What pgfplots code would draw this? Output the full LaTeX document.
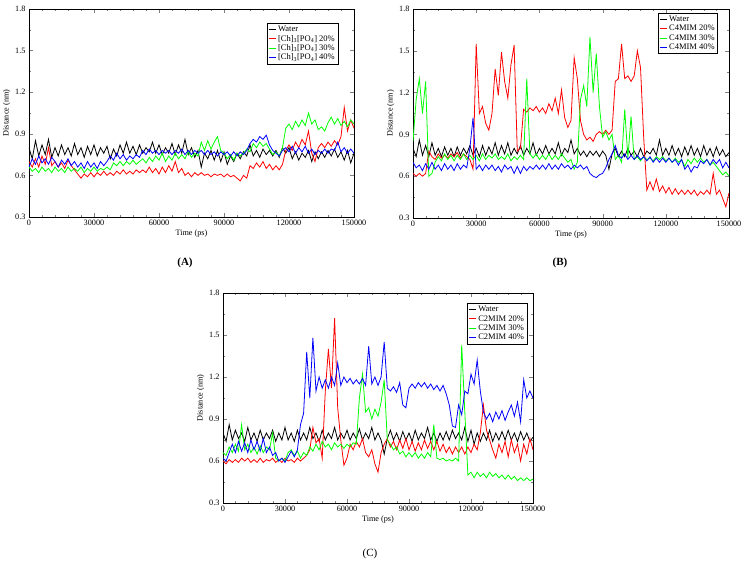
\documentclass[border=0pt]{standalone}
\usepackage{pgfplots}
\pgfplotsset{compat=1.18}
\usepackage{pgfplotstable}
\usepackage{fontspec}
\setmainfont{Liberation Serif}

\definecolor{gRed}{RGB}{255,0,0}
\definecolor{gGreen}{RGB}{0,255,0}
\definecolor{gBlue}{RGB}{0,0,255}

% panel A: water, [Ch]3[PO4] 20/30/40 %
\pgfplotstableread{
t w r g b
0 0.80 0.70 0.66 0.66
1500 0.72 0.66 0.63 0.72
3000 0.85 0.72 0.65 0.68
4500 0.74 0.66 0.62 0.74
6000 0.82 0.74 0.66 0.69
7500 0.75 0.68 0.63 0.72
9000 0.86 0.80 0.65 0.68
10500 0.73 0.67 0.62 0.73
12000 0.80 0.70 0.66 0.70
13500 0.74 0.66 0.63 0.66
15000 0.82 0.69 0.65 0.71
16500 0.75 0.65 0.62 0.68
18000 0.80 0.71 0.66 0.72
19500 0.74 0.67 0.63 0.67
21000 0.83 0.64 0.65 0.70
22500 0.75 0.61 0.63 0.66
24000 0.80 0.58 0.66 0.69
25500 0.73 0.61 0.62 0.65
27000 0.81 0.59 0.65 0.70
28500 0.75 0.62 0.63 0.66
30000 0.82 0.59 0.66 0.69
31500 0.74 0.62 0.63 0.65
33000 0.80 0.60 0.65 0.70
34500 0.76 0.63 0.64 0.67
36000 0.81 0.60 0.66 0.70
37500 0.72 0.62 0.64 0.74
39000 0.79 0.60 0.69 0.71
40500 0.74 0.63 0.67 0.76
42000 0.82 0.61 0.70 0.72
43500 0.76 0.64 0.67 0.75
45000 0.84 0.61 0.70 0.71
46500 0.76 0.63 0.68 0.74
48000 0.81 0.61 0.71 0.72
49500 0.75 0.64 0.68 0.75
51000 0.82 0.62 0.70 0.73
52500 0.76 0.64 0.72 0.78
54000 0.80 0.62 0.69 0.75
55500 0.77 0.66 0.73 0.79
57000 0.84 0.62 0.70 0.76
58500 0.76 0.65 0.74 0.78
60000 0.82 0.61 0.71 0.75
61500 0.75 0.66 0.76 0.78
63000 0.80 0.62 0.70 0.76
64500 0.76 0.67 0.74 0.78
66000 0.83 0.63 0.71 0.75
67500 0.75 0.70 0.76 0.78
69000 0.82 0.62 0.72 0.76
70500 0.76 0.65 0.75 0.79
72000 0.86 0.60 0.72 0.75
73500 0.75 0.62 0.77 0.78
75000 0.80 0.59 0.73 0.75
76500 0.73 0.62 0.76 0.78
78000 0.78 0.60 0.74 0.76
79500 0.66 0.62 0.84 0.78
81000 0.76 0.60 0.78 0.75
82500 0.72 0.61 0.85 0.78
84000 0.78 0.59 0.79 0.75
85500 0.71 0.61 0.84 0.77
87000 0.78 0.60 0.88 0.74
88500 0.70 0.61 0.78 0.77
90000 0.77 0.59 0.76 0.75
91500 0.68 0.61 0.72 0.77
93000 0.74 0.59 0.75 0.74
94500 0.70 0.60 0.71 0.77
96000 0.76 0.58 0.76 0.74
97500 0.72 0.56 0.74 0.77
99000 0.77 0.60 0.76 0.75
100500 0.74 0.58 0.79 0.78
102000 0.82 0.67 0.77 0.83
103500 0.74 0.65 0.83 0.86
105000 0.78 0.69 0.80 0.84
106500 0.73 0.66 0.84 0.88
108000 0.79 0.70 0.81 0.86
109500 0.75 0.65 0.83 0.89
111000 0.78 0.68 0.79 0.82
112500 0.74 0.64 0.75 0.78
114000 0.78 0.67 0.77 0.76
115500 0.73 0.64 0.74 0.74
117000 0.80 0.68 0.80 0.78
118500 0.76 0.78 0.94 0.80
120000 0.80 0.82 0.97 0.77
121500 0.72 0.78 0.93 0.81
123000 0.77 0.84 0.99 0.76
124500 0.71 0.80 0.95 0.80
126000 0.76 0.86 1.00 0.77
127500 0.73 0.82 0.96 0.81
129000 0.78 0.92 1.05 0.76
130500 0.70 0.76 0.97 0.79
132000 0.77 0.70 1.00 0.75
133500 0.72 0.80 0.93 0.78
135000 0.77 0.83 0.95 0.76
136500 0.73 0.80 0.92 0.79
138000 0.78 0.84 0.98 0.76
139500 0.74 0.81 1.02 0.79
141000 0.79 0.85 0.97 0.78
142500 0.73 0.82 1.01 0.84
144000 0.77 0.88 0.96 0.77
145500 0.71 1.09 0.99 0.80
147000 0.78 0.92 0.95 0.76
148500 0.69 1.00 1.00 0.79
150000 0.76 0.94 0.97 0.76
}\dataA

% panel B: water, C4MIM 20/30/40 %
\pgfplotstableread{
t w r g b
0 0.80 0.62 0.85 0.70
1500 0.74 0.60 1.15 0.66
3000 0.86 0.62 1.30 0.68
4500 0.75 0.60 1.05 0.64
6000 0.82 0.62 1.28 0.69
7500 0.74 0.78 0.60 0.65
9000 0.84 0.74 0.62 0.70
10500 0.75 0.72 0.70 0.65
12000 0.80 0.76 0.74 0.68
13500 0.74 0.73 0.71 0.64
15000 0.81 0.75 0.76 0.69
16500 0.75 0.73 0.72 0.65
18000 0.80 0.76 0.75 0.68
19500 0.74 0.74 0.71 0.64
21000 0.81 0.77 0.75 0.69
22500 0.75 0.73 0.72 0.65
24000 0.80 0.76 0.76 0.68
25500 0.76 0.74 0.72 0.66
27000 0.82 0.72 0.75 0.80
28500 0.75 0.65 0.72 1.02
30000 0.80 1.55 0.75 0.65
31500 0.74 1.05 0.71 0.68
33000 0.82 1.10 0.76 0.64
34500 0.75 0.98 0.72 0.68
36000 0.81 0.93 0.75 0.65
37500 0.76 1.05 0.73 0.68
39000 0.84 1.37 0.76 0.64
40500 0.75 1.18 0.72 0.67
42000 0.82 1.49 0.74 0.63
43500 0.76 1.28 0.72 0.68
45000 0.84 1.16 0.76 0.65
46500 0.75 1.40 0.71 0.67
48000 0.80 1.54 0.74 0.62
49500 0.76 0.78 0.72 0.67
51000 0.82 0.80 0.75 0.62
52500 0.75 1.08 0.72 0.67
54000 0.80 1.06 1.30 0.64
55500 0.76 1.09 0.76 0.67
57000 0.84 1.07 0.73 0.65
58500 0.75 1.10 0.76 0.68
60000 0.80 1.06 0.72 0.65
61500 0.76 1.09 0.75 0.68
63000 0.82 1.05 0.72 0.65
64500 0.76 1.12 0.76 0.69
66000 0.80 1.07 0.72 0.65
67500 0.76 1.16 0.75 0.68
69000 0.84 1.05 0.72 0.65
70500 0.75 1.22 0.76 0.69
72000 0.80 1.02 0.73 0.66
73500 0.77 0.95 0.70 0.68
75000 0.86 1.00 0.72 0.65
76500 0.76 1.45 0.65 0.68
78000 0.80 1.30 0.70 0.66
79500 0.75 1.00 1.15 0.68
81000 0.78 0.90 1.25 0.65
82500 0.74 0.86 1.10 0.67
84000 0.78 0.88 1.60 0.62
85500 0.75 0.85 1.20 0.60
87000 0.78 0.90 1.48 0.59
88500 0.74 0.92 1.10 0.61
90000 0.78 0.90 0.88 0.62
91500 0.75 0.93 0.92 0.66
93000 0.65 0.90 0.86 0.72
94500 0.76 0.93 0.90 0.76
96000 0.80 1.28 0.72 0.82
97500 0.74 1.30 0.75 0.75
99000 0.78 1.55 0.70 0.73
100500 0.74 1.30 1.08 0.76
102000 0.80 1.32 0.73 0.72
103500 0.75 1.28 1.03 0.75
105000 0.78 1.32 0.72 0.72
106500 0.74 1.50 0.74 0.75
108000 0.80 1.38 0.71 0.72
109500 0.74 0.88 0.74 0.74
111000 0.78 0.50 0.72 0.71
112500 0.76 0.56 0.73 0.74
114000 0.80 0.50 0.71 0.70
115500 0.75 0.58 0.74 0.73
117000 0.86 0.49 0.72 0.70
118500 0.75 0.53 0.74 0.73
120000 0.80 0.48 0.71 0.70
121500 0.75 0.52 0.73 0.73
123000 0.82 0.47 0.70 0.70
124500 0.75 0.51 0.73 0.72
126000 0.80 0.47 0.70 0.68
127500 0.74 0.50 0.72 0.72
129000 0.81 0.47 0.67 0.65
130500 0.75 0.50 0.72 0.68
132000 0.82 0.47 0.69 0.63
133500 0.75 0.50 0.73 0.67
135000 0.80 0.46 0.70 0.66
136500 0.74 0.49 0.73 0.71
138000 0.82 0.47 0.70 0.69
139500 0.75 0.50 0.72 0.72
141000 0.80 0.47 0.68 0.68
142500 0.74 0.62 0.70 0.72
144000 0.81 0.47 0.67 0.69
145500 0.75 0.50 0.64 0.72
147000 0.79 0.44 0.61 0.66
148500 0.74 0.38 0.63 0.70
150000 0.77 0.48 0.60 0.66
}\dataB

% panel C: water, C2MIM 20/30/40 %
\pgfplotstableread{
t w r g b
0 0.80 0.60 0.66 0.62
1500 0.74 0.58 0.64 0.60
3000 0.86 0.61 0.70 0.66
4500 0.75 0.59 0.66 0.72
6000 0.82 0.61 0.72 0.66
7500 0.76 0.59 0.67 0.74
9000 0.80 0.62 0.86 0.67
10500 0.74 0.60 0.68 0.73
12000 0.84 0.62 0.72 0.66
13500 0.75 0.59 0.66 0.75
15000 0.80 0.61 0.70 0.68
16500 0.74 0.59 0.65 0.74
18000 0.82 0.62 0.71 0.67
19500 0.75 0.59 0.66 0.76
21000 0.80 0.61 0.70 0.66
22500 0.76 0.60 0.68 0.70
24000 0.82 0.62 0.80 0.64
25500 0.74 0.59 0.62 0.66
27000 0.80 0.61 0.60 0.60
28500 0.75 0.59 0.62 0.62
30000 0.84 0.62 0.60 0.59
31500 0.75 0.60 0.66 0.63
33000 0.80 0.61 0.68 0.67
34500 0.74 0.59 0.64 0.63
36000 0.82 0.62 0.67 0.68
37500 0.75 0.60 0.62 0.86
39000 0.80 0.62 0.66 0.94
40500 0.75 0.64 0.64 1.38
42000 0.84 0.68 0.70 1.05
43500 0.76 0.84 0.67 1.48
45000 0.80 0.73 0.72 1.10
46500 0.74 0.76 0.68 1.20
48000 0.82 0.62 0.74 1.12
49500 0.75 1.10 0.70 1.18
51000 0.80 1.40 0.72 1.12
52500 0.76 1.12 0.68 1.20
54000 0.84 1.62 0.73 1.14
55500 0.75 0.98 0.70 1.30
57000 0.80 0.75 0.72 1.14
58500 0.76 0.57 0.69 1.20
60000 0.82 0.62 0.72 1.16
61500 0.75 0.72 0.70 1.19
63000 0.80 0.68 0.73 1.15
64500 0.76 0.74 0.72 1.18
66000 0.83 0.70 1.05 1.15
67500 0.75 0.76 1.22 1.19
69000 0.80 0.66 0.95 1.14
70500 0.76 0.63 0.98 1.42
72000 0.84 0.68 0.90 1.15
73500 0.75 0.58 0.97 1.20
75000 0.80 0.52 0.92 1.14
76500 0.75 0.66 1.02 1.20
78000 0.65 0.72 1.18 1.45
79500 0.76 0.76 0.75 1.12
81000 0.82 0.70 0.72 1.10
82500 0.75 0.74 0.68 1.13
84000 0.80 0.68 0.70 1.09
85500 0.74 0.75 0.65 1.16
87000 0.81 0.69 0.67 1.00
88500 0.75 0.76 0.63 0.98
90000 0.80 0.68 0.66 1.12
91500 0.74 0.74 0.63 1.15
93000 0.82 0.67 0.66 1.12
94500 0.75 0.73 0.62 1.16
96000 0.80 0.68 0.65 1.13
97500 0.76 0.75 0.62 1.16
99000 0.84 0.69 0.66 1.12
100500 0.75 0.74 0.63 1.15
102000 0.80 0.68 0.86 1.11
103500 0.74 0.74 0.62 1.14
105000 0.80 0.67 0.61 1.10
106500 0.75 0.72 0.62 1.14
108000 0.81 0.66 0.60 1.08
109500 0.75 0.70 0.61 1.00
111000 0.82 0.65 0.60 0.85
112500 0.76 0.70 0.62 0.84
114000 0.80 0.66 0.60 1.00
115500 0.75 0.70 1.43 0.93
117000 0.84 0.65 0.95 1.10
118500 0.74 0.70 0.50 1.08
120000 0.82 0.66 0.52 1.22
121500 0.72 0.72 0.48 1.15
123000 0.80 0.68 0.52 1.32
124500 0.74 0.80 0.49 1.10
126000 0.80 1.00 0.51 0.95
127500 0.75 0.82 0.48 0.90
129000 0.82 0.75 0.52 0.94
130500 0.74 0.68 0.49 0.88
132000 0.80 0.62 0.51 0.95
133500 0.75 0.72 0.48 0.90
135000 0.81 0.66 0.50 0.96
136500 0.75 0.74 0.47 0.89
138000 0.82 0.63 0.50 0.95
139500 0.75 0.75 0.47 1.00
141000 0.80 0.66 0.49 0.92
142500 0.74 0.72 0.46 1.02
144000 0.81 0.60 0.48 0.88
145500 0.75 0.72 0.46 1.18
147000 0.80 0.65 0.48 1.05
148500 0.74 0.76 0.46 1.10
150000 0.77 0.68 0.47 1.05
}\dataC

\pgfplotsset{
  grace/.style={
    scale only axis,
    xmin=0, xmax=150000, ymin=0.3, ymax=1.8,
    xtick={0,30000,60000,90000,120000,150000},
    ytick={0.3,0.6,0.9,1.2,1.5,1.8},
    minor x tick num=4, minor y tick num=1,
    tick align=inside, major tick length=4pt, minor tick length=2pt,
    scaled x ticks=false,
    /pgf/number format/assume math mode=true,
    xticklabel style={/pgf/number format/.cd, fixed, 1000 sep={}},
    yticklabel style={/pgf/number format/.cd, fixed, precision=1, fixed zerofill},
    tick label style={font=\fontsize{8.2}{9}\selectfont},
    label style={font=\fontsize{8.2}{9}\selectfont},
    xlabel={Time (ps)}, ylabel={Distance (nm)},
    xlabel style={yshift=3pt}, ylabel style={yshift=-2pt},
    axis line style={line width=0.5pt},
    every axis plot/.append style={line width=0.8pt},
    legend cell align=left,
    legend style={font=\fontsize{8.5}{9}\selectfont, draw=black, line width=0.5pt,
      inner sep=1pt, row sep=-2pt},
    legend image code/.code={\draw[##1, line width=1pt] (0pt,0pt) -- (7pt,0pt);},
  }
}

\begin{document}
\begin{tikzpicture}
\useasboundingbox (0,0) rectangle (745pt,568pt);

% (A)
\begin{axis}[grace, at={(29pt,351pt)}, anchor=south west, width=325pt, height=208pt,
  legend style={at={(0.951,0.933)}, anchor=north east}]
\addplot[black] table[x=t, y=w] \dataA;
\addlegendentry{Water}
\addplot[gRed] table[x=t, y=r] \dataA;
\addlegendentry{[Ch]\textsubscript{3}[PO\textsubscript{4}] 20\%}
\addplot[gGreen] table[x=t, y=g] \dataA;
\addlegendentry{[Ch]\textsubscript{3}[PO\textsubscript{4}] 30\%}
\addplot[gBlue] table[x=t, y=b] \dataA;
\addlegendentry{[Ch]\textsubscript{3}[PO\textsubscript{4}] 40\%}
\end{axis}

% (B)
\begin{axis}[grace, at={(413pt,350pt)}, anchor=south west, width=316pt, height=209pt,
  legend style={at={(0.965,0.981)}, anchor=north east}]
\addplot[black] table[x=t, y=w] \dataB;
\addlegendentry{Water}
\addplot[gRed] table[x=t, y=r] \dataB;
\addlegendentry{C4MIM 20\%}
\addplot[gGreen] table[x=t, y=g] \dataB;
\addlegendentry{C4MIM 30\%}
\addplot[gBlue] table[x=t, y=b] \dataB;
\addlegendentry{C4MIM 40\%}
\end{axis}

% (C)
\begin{axis}[grace, at={(223pt,65pt)}, anchor=south west, width=310pt, height=210pt,
  legend style={at={(0.981,0.952)}, anchor=north east}]
\addplot[black] table[x=t, y=w] \dataC;
\addlegendentry{Water}
\addplot[gRed] table[x=t, y=r] \dataC;
\addlegendentry{C2MIM 20\%}
\addplot[gGreen] table[x=t, y=g] \dataC;
\addlegendentry{C2MIM 30\%}
\addplot[gBlue] table[x=t, y=b] \dataC;
\addlegendentry{C2MIM 40\%}
\end{axis}

\node[font=\bfseries\fontsize{11}{13}\selectfont] at (185pt,305pt) {(A)};
\node[font=\bfseries\fontsize{11}{13}\selectfont] at (560pt,305pt) {(B)};
\node[font=\fontsize{11}{13}\selectfont] at (370pt,14pt) {(C)};
\end{tikzpicture}
\end{document}
